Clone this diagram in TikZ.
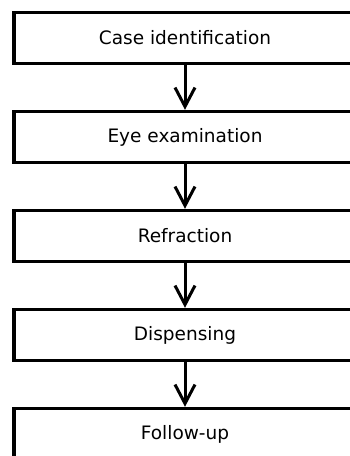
\documentclass[tikz,border=0pt]{standalone}
\usepackage{fontspec}
\setmainfont{DejaVu Sans}
\usetikzlibrary{arrows.meta}
\begin{document}
\begin{tikzpicture}[x=1pt,y=-1pt,every node/.style={rectangle,draw,line width=3.5pt,minimum width=342pt,minimum height=51pt,inner sep=0pt,font=\fontsize{18.5}{22}\selectfont}]
\clip (0,0) rectangle (350,456);
\node (1) at (185,38) {Case identification};
\node (2) at (185,137) {Eye examination};
\node (3) at (185,236) {Refraction};
\node (4) at (185,335) {Dispensing};
\node (5) at (185,434) {Follow-up};

\foreach \i/\j in {1/2,2/3,3/4,4/5}{
  \draw[line width=3pt,-{Straight Barb[length=19pt,width=20pt,line join=miter]}] (\i) -- (\j);
}
\end{tikzpicture}
\end{document}
